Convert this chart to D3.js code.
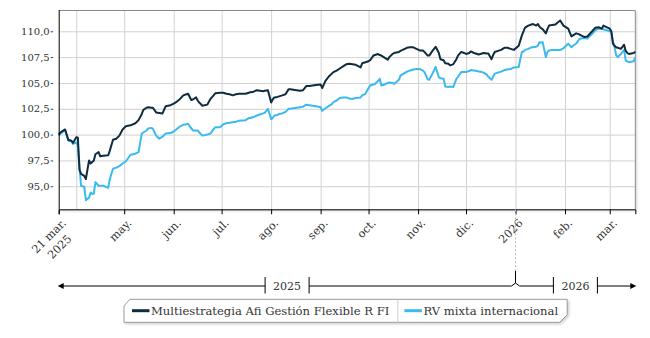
<!DOCTYPE html>
<html><head><meta charset="utf-8">
<script src="https://cdn.jsdelivr.net/npm/d3@7"></script>
<style>
body{margin:0;background:#fff}
svg{display:block}
text{font-family:"DejaVu Serif",serif;fill:#333}
</style>
</head><body>
<svg id="c" width="650" height="338"></svg>
<script>
// ---------------- data ----------------
const dates = [
"2025-03-21","2025-03-22","2025-03-25","2025-03-27","2025-03-29","2025-03-30",
"2025-04-01","2025-04-02","2025-04-03","2025-04-04","2025-04-06","2025-04-07","2025-04-09","2025-04-10","2025-04-11","2025-04-12","2025-04-13","2025-04-15","2025-04-16","2025-04-18","2025-04-21","2025-04-22","2025-04-24","2025-04-26","2025-04-28","2025-04-30",
"2025-05-02","2025-05-05","2025-05-08","2025-05-10","2025-05-12","2025-05-13","2025-05-15","2025-05-16","2025-05-18","2025-05-19","2025-05-21","2025-05-23","2025-05-25","2025-05-27","2025-05-30",
"2025-06-01","2025-06-03","2025-06-05","2025-06-07","2025-06-09","2025-06-10","2025-06-12","2025-06-13","2025-06-15","2025-06-16","2025-06-17","2025-06-19","2025-06-22","2025-06-24","2025-06-26","2025-06-27","2025-06-30",
"2025-07-02","2025-07-04","2025-07-06","2025-07-08","2025-07-10","2025-07-12","2025-07-16","2025-07-18","2025-07-19","2025-07-21","2025-07-23","2025-07-25","2025-07-27","2025-07-28","2025-07-30",
"2025-08-01","2025-08-02","2025-08-03","2025-08-05","2025-08-06","2025-08-08","2025-08-10","2025-08-12","2025-08-13","2025-08-15","2025-08-17","2025-08-19","2025-08-21","2025-08-23","2025-08-25","2025-08-27","2025-08-29",
"2025-09-01","2025-09-02","2025-09-04","2025-09-06","2025-09-08","2025-09-09","2025-09-11","2025-09-13","2025-09-15","2025-09-17","2025-09-19","2025-09-21","2025-09-23","2025-09-26","2025-09-27","2025-09-29",
"2025-10-01","2025-10-02","2025-10-04","2025-10-05","2025-10-07","2025-10-08","2025-10-09","2025-10-10","2025-10-11","2025-10-13","2025-10-14","2025-10-16","2025-10-17","2025-10-20","2025-10-21","2025-10-23","2025-10-25","2025-10-27","2025-10-29","2025-10-31",
"2025-11-02","2025-11-04","2025-11-05","2025-11-07","2025-11-08","2025-11-10","2025-11-12","2025-11-14","2025-11-15","2025-11-17","2025-11-18","2025-11-20","2025-11-21","2025-11-23","2025-11-25","2025-11-26","2025-11-28","2025-11-30",
"2025-12-01","2025-12-03","2025-12-04","2025-12-06","2025-12-08","2025-12-09","2025-12-11","2025-12-12","2025-12-14","2025-12-15","2025-12-17","2025-12-18","2025-12-19","2025-12-21","2025-12-23","2025-12-25","2025-12-27","2025-12-29","2025-12-31",
"2026-01-03","2026-01-04","2026-01-05","2026-01-06","2026-01-07","2026-01-09","2026-01-11","2026-01-12","2026-01-14","2026-01-15","2026-01-16","2026-01-17","2026-01-18","2026-01-20","2026-01-21","2026-01-22","2026-01-24","2026-01-26","2026-01-27","2026-01-29","2026-01-31",
"2026-02-01","2026-02-02","2026-02-03","2026-02-05","2026-02-06","2026-02-08","2026-02-10","2026-02-11","2026-02-13","2026-02-15","2026-02-18","2026-02-20","2026-02-22","2026-02-24","2026-02-25","2026-02-27",
"2026-03-01","2026-03-02","2026-03-03","2026-03-04","2026-03-05","2026-03-06","2026-03-08","2026-03-10","2026-03-11","2026-03-12","2026-03-13","2026-03-16","2026-03-17"
];

const multiestrategia = [
100.0,100.2,100.5,99.5,99.4,99.2,
99.75,99.7,96.6,96.2,96.0,95.7,97.5,97.2,97.35,97.5,98.1,98.3,97.9,97.95,98.0,98.45,99.5,99.6,99.9,100.5,
100.8,100.9,101.1,101.4,102.0,102.4,102.6,102.65,102.6,102.6,102.15,102.1,102.05,102.75,102.85,
103.0,103.2,103.45,103.8,103.9,103.95,103.35,103.4,103.6,103.3,103.1,102.8,102.9,103.45,103.8,104.0,104.05,
104.05,103.95,103.9,103.8,103.9,103.95,103.95,104.05,104.1,104.15,104.3,104.25,104.2,104.25,104.3,
103.1,103.4,103.6,103.65,103.7,103.8,103.9,104.4,104.4,104.35,104.3,104.25,104.3,104.7,104.7,104.75,104.8,
104.85,104.5,105.2,105.6,105.9,106.05,106.2,106.4,106.6,106.8,106.85,106.8,106.75,106.5,106.9,107.0,
107.1,107.2,107.65,107.7,107.8,107.7,107.65,107.55,107.45,107.25,107.5,107.8,107.9,108.0,108.1,108.25,108.4,108.45,108.45,108.3,
108.15,108.15,108.0,107.65,107.65,108.1,108.5,107.9,107.3,107.2,106.9,106.85,106.7,106.8,107.3,107.65,108.0,107.9,
107.8,107.9,108.05,107.9,107.8,107.75,107.85,107.9,107.85,107.85,107.3,107.7,108.0,108.1,108.2,108.4,108.4,108.3,108.2,
108.6,109.1,109.6,110.0,110.35,110.55,110.65,110.7,110.55,110.7,110.45,110.3,110.2,109.8,110.2,110.55,110.6,110.65,110.8,111.05,110.55,
110.45,110.35,110.25,109.5,109.6,109.8,109.7,109.6,109.45,109.5,110.0,110.35,110.4,110.25,110.55,110.4,
110.25,110.0,108.8,108.6,108.45,108.4,108.3,108.7,108.1,107.9,107.8,107.9,108.0
];

const rvMixtaInternacional = [
99.9,100.05,100.45,99.4,99.35,99.1,
99.25,98.95,97.0,95.05,94.95,93.65,93.9,94.4,94.25,94.3,95.4,95.05,95.05,95.05,94.85,95.7,96.7,96.8,96.95,97.2,
97.4,98.05,98.15,98.3,100.1,100.2,100.4,100.6,100.65,100.55,99.9,99.6,99.8,100.1,100.15,
100.3,100.55,100.8,100.95,101.0,101.05,100.6,100.4,100.4,100.4,100.2,99.9,100.0,100.1,100.55,100.7,100.7,
101.0,101.1,101.15,101.2,101.25,101.35,101.4,101.6,101.6,101.7,101.85,101.95,102.05,102.1,102.5,
101.5,101.6,101.85,101.9,102.0,102.05,102.2,102.5,102.5,102.55,102.6,102.65,102.7,102.9,102.85,102.8,102.75,
102.65,102.3,102.55,102.75,102.95,103.15,103.3,103.55,103.6,103.6,103.5,103.45,103.55,103.6,103.8,103.95,
104.5,104.75,104.85,104.9,105.2,105.4,104.75,104.8,104.85,105.0,105.05,105.0,104.9,105.3,105.7,105.9,106.1,106.2,106.3,106.35,
106.35,106.2,106.05,105.35,105.3,105.9,106.55,105.55,105.45,105.4,104.65,104.6,104.65,104.6,105.4,105.6,106.05,106.05,
106.05,106.15,106.25,106.2,106.15,106.1,106.05,106.0,105.8,105.6,105.3,105.6,105.9,106.0,106.1,106.25,106.3,106.35,106.5,
106.55,107.3,108.0,108.05,108.2,108.3,108.45,108.45,108.5,108.6,108.95,108.9,108.95,107.5,108.0,108.15,108.2,108.2,108.2,108.2,108.35,
108.5,108.65,108.8,108.45,108.6,108.8,109.25,109.3,109.35,109.3,109.75,110.1,110.25,110.25,110.2,110.1,
110.0,109.9,109.0,108.45,107.7,107.5,107.8,108.2,107.15,107.1,107.0,107.1,107.45
];

const seriesNames = ["Multiestrategia Afi Gestión Flexible R FI", "RV mixta internacional"];
const yTicks = [95, 97.5, 100, 102.5, 105, 107.5, 110];
const gridDates = ["2025-04-01","2025-05-01","2025-06-01","2025-07-01","2025-08-01","2025-09-01","2025-10-01","2025-11-01","2025-12-01","2026-01-01","2026-02-01","2026-03-01"];
const labelDates = ["2025-03-21","2025-05-01","2025-06-01","2025-07-01","2025-08-01","2025-09-01","2025-10-01","2025-11-01","2025-12-01","2026-01-01","2026-02-01","2026-03-01"];
const labelTexts = ["21 mar.|2025","may.","jun.","jul.","ago.","sep.","oct.","nov.","dic.","2026","feb.","mar."];
const years = ["2025","2026"];
const yearStarts = ["2025-03-21","2026-01-01"];
const domainDates = ["2025-03-21","2026-03-17"];
const yDomain = [92.77, 112.06];

// ---------------- styles ----------------
const colors = ["#0f2c3e", "#3cb9ee"];
const M = {left: 58.7, right: 635.3, top: 10, bottom: 209.3};

const parse = d3.timeParse("%Y-%m-%d");
const svg = d3.select("#c");
const defs = svg.append("defs");
const f = defs.append("filter").attr("id","sh").attr("x","-10%").attr("y","-10%").attr("width","120%").attr("height","130%");
f.append("feDropShadow").attr("dx",1.5).attr("dy",1.5).attr("stdDeviation",1.3).attr("flood-color","#000").attr("flood-opacity",0.18);

const x = d3.scaleTime().domain(domainDates.map(parse)).range([M.left, M.right]);
const y = d3.scaleLinear().domain(yDomain).range([M.bottom, M.top]);

// plot background with shadow
svg.append("rect").attr("x",M.left).attr("y",M.top).attr("width",M.right-M.left).attr("height",M.bottom-M.top)
  .attr("fill","#fff").attr("filter","url(#sh)");

// grids
const gx = svg.append("g").attr("transform",`translate(0,${M.bottom})`)
  .call(d3.axisBottom(x).tickValues(gridDates.map(parse)).tickSize(-(M.bottom-M.top)).tickFormat(""));
gx.select(".domain").remove();
gx.selectAll("line").attr("stroke","#d2d2d2");
const gy = svg.append("g").attr("transform",`translate(${M.left},0)`)
  .call(d3.axisLeft(y).tickValues(yTicks).tickSize(-(M.right-M.left)).tickFormat(""));
gy.select(".domain").remove();
gy.selectAll("line").attr("stroke","#d2d2d2");

// frame top & right
svg.append("path").attr("d",`M${M.left},${M.top+0.5}H${M.right}V${M.bottom}`).attr("fill","none").attr("stroke","#8a8a8a");

// series
const line = d3.line().x((d,i)=>x(parse(dates[i]))).y(d=>y(d));
[multiestrategia, rvMixtaInternacional].slice().reverse().forEach((s,k)=>{
  const idx = 1-k;
  svg.append("path").datum(s).attr("d",line).attr("fill","none")
    .attr("stroke",colors[idx]).attr("stroke-width",2).attr("stroke-linejoin","round");
});

// y axis
const loc = d3.formatLocale({decimal:",",thousands:".",grouping:[3],currency:["","€"]});
const fmt = loc.format(".1f");
const ya = svg.append("g").attr("transform",`translate(${M.left},0)`)
  .call(d3.axisLeft(y).tickValues(yTicks).tickSize(0).tickPadding(9).tickFormat(fmt));
ya.select(".domain").attr("stroke","#000").attr("d",`M0.5,${M.top}V${M.bottom}`);
ya.selectAll("text").attr("font-size",10).attr("fill","#333").style("font-family",'"DejaVu Serif",serif');
ya.selectAll(".tick").append("line").attr("x1",-8).attr("x2",-5.5).attr("stroke","#444");

// x axis
const xa = svg.append("g").attr("transform",`translate(0,${M.bottom})`)
  .call(d3.axisBottom(x).tickValues(labelDates.map(parse)).tickSize(5).tickFormat((d,i)=>labelTexts[i]));
xa.select(".domain").attr("stroke","#000");
xa.selectAll("line").attr("stroke","#000");
xa.selectAll("text").each(function(d,i){
  const t = d3.select(this);
  const parts = labelTexts[i].split("|");
  t.text(null).attr("y",0).attr("dy",0).attr("x",0)
   .attr("font-size",11.2).attr("fill","#333").style("font-family",'"DejaVu Serif",serif')
   .attr("text-anchor","end").attr("transform","translate(7.5,14.5) rotate(-45)");
  const t1 = t.append("tspan").attr("x",0).text(parts[0]);
  if (parts.length>1){
    const w = t1.node().getComputedTextLength();
    t.append("tspan").attr("x",-w/2).attr("dy",15).attr("text-anchor","middle").text(parts[1]);
  }
});

// dashed year marker
const xYear = x(parse(yearStarts[1]));
const TY = 286;
svg.append("line").attr("x1",xYear).attr("x2",xYear).attr("y1",M.bottom).attr("y2",271)
  .attr("stroke","#bbb").attr("stroke-dasharray","2,2");
svg.append("line").attr("x1",xYear).attr("x2",xYear).attr("y1",271).attr("y2",283).attr("stroke","#000");

// timeline
const yearEnds = [xYear, M.right];
const gaps = [];
years.forEach((yr,i)=>{
  const a = x(parse(yearStarts[i])), b = yearEnds[i];
  const c = (a+b)/2;
  const t = svg.append("text").attr("x",c).attr("y",TY+4).attr("text-anchor","middle")
    .attr("font-size",11).attr("fill","#333").text(yr);
  const w = t.node().getComputedTextLength();
  gaps.push([c-w/2-8, c+w/2+8]);
});
const tl = svg.append("g").attr("stroke","#000").attr("fill","none");
let d = `M${M.left+3},${TY}H${gaps[0][0]}M${gaps[0][1]},${TY}H${xYear-4}L${xYear},${TY-3}L${xYear+4},${TY}H${gaps[1][0]}M${gaps[1][1]},${TY}H${M.right-3}`;
tl.append("path").attr("d",d);
gaps.forEach(g=>g.forEach(gx=>{
  tl.append("line").attr("x1",gx).attr("x2",gx).attr("y1",TY-9).attr("y2",TY+7.5);
}));
svg.append("path").attr("d",`M${M.left-1},${TY}l6,-3v6z`).attr("fill","#000");
svg.append("path").attr("d",`M${M.right+1},${TY}l-6,-3v6z`).attr("fill","#000");

// legend
const L = {left:124, top:299.3, bottom:322.3};
const lg = svg.append("g");
const box = lg.append("path").attr("fill","#fff").attr("stroke","#999").attr("filter","url(#sh)");
const ly = 310.7;
const items = [];
let cx = L.left + 8;
seriesNames.forEach((nm,i)=>{
  lg.append("line").attr("x1",cx).attr("x2",cx+17.5).attr("y1",ly).attr("y2",ly)
    .attr("stroke",colors[i]).attr("stroke-width",3);
  const t = lg.append("text").attr("x",cx+19).attr("y",314.5).attr("font-size",11.6).attr("fill","#222").text(nm);
  const w = t.node().getComputedTextLength();
  const end = cx+19+w;
  items.push(end);
  if (i < seriesNames.length-1){
    const dv = end + 8.5;
    lg.append("line").attr("x1",dv).attr("x2",dv).attr("y1",L.top).attr("y2",L.bottom).attr("stroke","#ccc");
    cx = dv + 6.6;
  }
});
const R = items[items.length-1] + 9;
box.attr("d",`M${L.left+6},${L.top}H${R}V${L.bottom-7.5}L${R-7.5},${L.bottom}H${L.left}V${L.top+6.5}Z`);
lg.node().insertBefore(box.node(), lg.node().firstChild);
</script>
</body></html>
